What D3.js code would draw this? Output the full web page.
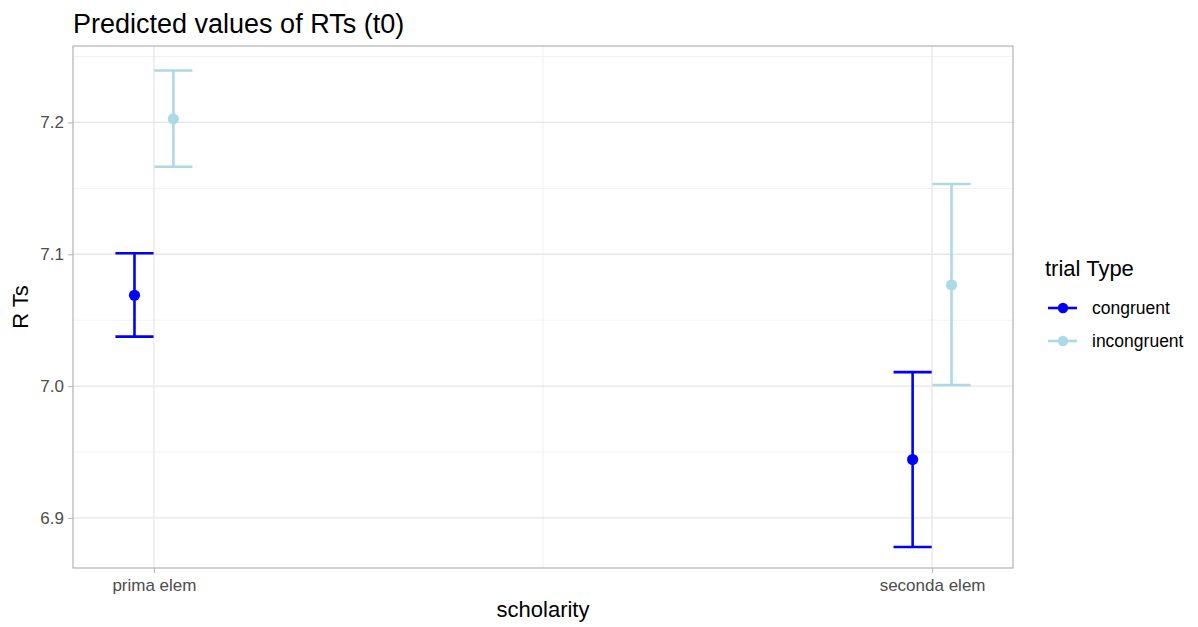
<!DOCTYPE html>
<html>
<head>
<meta charset="utf-8">
<script src="https://cdn.jsdelivr.net/npm/d3@7"></script>
<style>
  body { margin: 0; background: #fff; }
  svg { display: block; font-family: "Liberation Sans", Arial, sans-serif; }
</style>
</head>
<body>
<svg id="chart" width="1198" height="627"></svg>
<script>
// Predicted RTs by scholarity and trial type (point estimates with CIs)
const categories = ["prima elem", "seconda elem"];
const groups = ["congruent", "incongruent"];
const groupColors = ["#0000FF", "#ADD8E6"];
const predicted = {
  congruent:   [7.0689, 6.9443],
  incongruent: [7.2027, 7.0767]
};
const ciLow = {
  congruent:   [7.0375, 6.8779],
  incongruent: [7.1664, 7.0008]
};
const ciHigh = {
  congruent:   [7.1008, 7.0106],
  incongruent: [7.2394, 7.1533]
};
const yTicks = [6.9, 7.0, 7.1, 7.2];
const yMinor = [6.95, 7.05, 7.15, 7.25];

const svg = d3.select("#chart");
const panel = { left: 73, right: 1013, top: 46, bottom: 568 };

const x = d3.scalePoint().domain(categories).range([panel.left, panel.right]).padding(0.104);
const dodge = d3.scalePoint().domain(groups).range([-0.025, 0.025]);
const y = d3.scaleLinear().domain([6.862, 7.258]).range([panel.bottom, panel.top]);
const color = d3.scaleOrdinal().domain(groups).range(groupColors);
const step = x.step();
const capHalf = 0.0245 * step;

// minor grid
svg.append("g").selectAll("line").data(yMinor).join("line")
  .attr("x1", panel.left).attr("x2", panel.right)
  .attr("y1", d => y(d)).attr("y2", d => y(d))
  .attr("stroke", "#F2F2F2").attr("stroke-width", 1);
svg.append("line")
  .attr("x1", (x(categories[0]) + x(categories[1])) / 2)
  .attr("x2", (x(categories[0]) + x(categories[1])) / 2)
  .attr("y1", panel.top).attr("y2", panel.bottom)
  .attr("stroke", "#F2F2F2").attr("stroke-width", 1);

// major grid
svg.append("g").selectAll("line").data(yTicks).join("line")
  .attr("x1", panel.left).attr("x2", panel.right)
  .attr("y1", d => y(d)).attr("y2", d => y(d))
  .attr("stroke", "#E6E6E6").attr("stroke-width", 1.3);
svg.append("g").selectAll("line").data(categories).join("line")
  .attr("x1", d => x(d)).attr("x2", d => x(d))
  .attr("y1", panel.top).attr("y2", panel.bottom)
  .attr("stroke", "#E6E6E6").attr("stroke-width", 1.3);

// panel border
svg.append("rect")
  .attr("x", panel.left).attr("y", panel.top)
  .attr("width", panel.right - panel.left).attr("height", panel.bottom - panel.top)
  .attr("fill", "none").attr("stroke", "#B3B3B3").attr("stroke-width", 1.2);

// axes
const yAxis = d3.axisLeft(y).tickValues(yTicks).tickFormat(d3.format(".1f")).tickSize(5).tickPadding(4);
const gy = svg.append("g").attr("transform", `translate(${panel.left},0)`).call(yAxis);
gy.select(".domain").remove();
gy.selectAll(".tick line").attr("stroke", "#B3B3B3");
gy.selectAll(".tick text").attr("fill", "#4D4D4D").style("font-size", "17px");

const xAxis = d3.axisBottom(x).tickSize(5).tickPadding(6);
const gx = svg.append("g").attr("transform", `translate(0,${panel.bottom})`).call(xAxis);
gx.select(".domain").remove();
gx.selectAll(".tick line").attr("stroke", "#B3B3B3");
gx.selectAll(".tick text").attr("fill", "#4D4D4D").style("font-size", "17px");

// data rows
const rows = [];
groups.forEach(g => categories.forEach((c, i) => rows.push({
  cat: c, group: g, est: predicted[g][i], lo: ciLow[g][i], hi: ciHigh[g][i]
})));
const px = d => x(d.cat) + dodge(d.group) * step;

const marks = svg.append("g");
marks.selectAll("line.bar").data(rows).join("line").attr("class", "bar")
  .attr("x1", px).attr("x2", px)
  .attr("y1", d => y(d.lo)).attr("y2", d => y(d.hi))
  .attr("stroke", d => color(d.group)).attr("stroke-width", 2.6);
marks.selectAll("line.capHi").data(rows).join("line").attr("class", "capHi")
  .attr("x1", d => px(d) - capHalf).attr("x2", d => px(d) + capHalf)
  .attr("y1", d => y(d.hi)).attr("y2", d => y(d.hi))
  .attr("stroke", d => color(d.group)).attr("stroke-width", 2.6);
marks.selectAll("line.capLo").data(rows).join("line").attr("class", "capLo")
  .attr("x1", d => px(d) - capHalf).attr("x2", d => px(d) + capHalf)
  .attr("y1", d => y(d.lo)).attr("y2", d => y(d.lo))
  .attr("stroke", d => color(d.group)).attr("stroke-width", 2.6);
marks.selectAll("circle").data(rows).join("circle")
  .attr("cx", px).attr("cy", d => y(d.est)).attr("r", 5.6)
  .attr("fill", d => color(d.group));

// titles
svg.append("text").attr("x", panel.left).attr("y", 33)
  .style("font-size", "27px").attr("fill", "#000").text("Predicted values of RTs (t0)");
svg.append("text")
  .attr("transform", `translate(28,${(panel.top + panel.bottom) / 2}) rotate(-90)`)
  .attr("text-anchor", "middle").style("font-size", "22px").attr("fill", "#000").text("R Ts");
svg.append("text").attr("x", (panel.left + panel.right) / 2).attr("y", 617)
  .attr("text-anchor", "middle").style("font-size", "22px").attr("fill", "#000").text("scholarity");

// legend
const leg = svg.append("g").attr("transform", "translate(1031,0)");
leg.append("text").attr("x", 14).attr("y", 276).style("font-size", "22px").attr("fill", "#000").text("trial Type");
const item = leg.selectAll("g.item").data(groups).join("g").attr("class", "item")
  .attr("transform", (d, i) => `translate(0,${308 + i * 33})`);
item.append("line").attr("x1", 17).attr("x2", 46).attr("y1", 0).attr("y2", 0)
  .attr("stroke", d => color(d)).attr("stroke-width", 2.6);
item.append("circle").attr("cx", 32).attr("cy", 0).attr("r", 5.2).attr("fill", d => color(d));
item.append("text").attr("x", 61).attr("y", 6).style("font-size", "17.5px").attr("fill", "#000").text(d => d);
</script>
</body>
</html>
